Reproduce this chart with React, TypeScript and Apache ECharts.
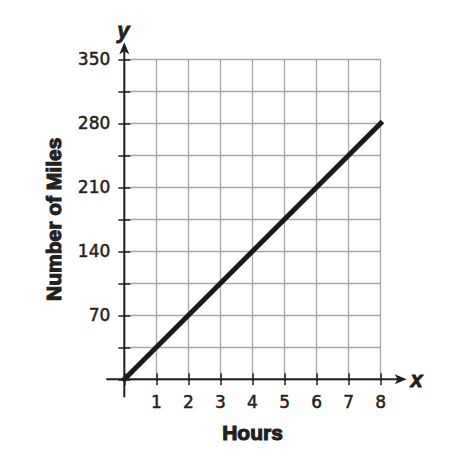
import React, { useEffect, useRef } from "react";
import * as echarts from "echarts";

const hours = [0, 1, 2, 3, 4, 5, 6, 7, 8];
const miles = [0, 35, 70, 105, 140, 175, 210, 245, 280];
const xTicks = [0, 1, 2, 3, 4, 5, 6, 7, 8];
const yTicks = [0, 35, 70, 105, 140, 175, 210, 245, 280, 315, 350];
const yLabelValues = [70, 140, 210, 280, 350];

const AXIS = "#231f20";
const GRID = "#a8a8a8";

export default function App() {
  const ref = useRef<HTMLDivElement>(null);
  useEffect(() => {
    if (!ref.current) return;
    const chart = echarts.init(ref.current, null, { renderer: "svg" });
    const xMin = xTicks[0];
    const xMax = xTicks[xTicks.length - 1];
    const yMin = yTicks[0];
    const yMax = yTicks[yTicks.length - 1];
    const tickLabel = {
      fontFamily: "DejaVu Sans",
      fontSize: 17,
      color: AXIS,
      margin: 14,
      textBorderColor: AXIS,
      textBorderWidth: 0.5,
    };
    const nameStyle = {
      fontFamily: "Liberation Sans",
      fontWeight: "bold",
      fontSize: 21,
      color: AXIS,
      textBorderColor: AXIS,
      textBorderWidth: 1.1,
    };
    const option: any = {
      animation: false,
      grid: { left: 124.3, right: 73.3, top: 59.3, bottom: 84.7 },
      xAxis: [
        {
          type: "value",
          min: xMin,
          max: xMax,
          interval: 1,
          name: "Hours",
          nameLocation: "middle",
          nameGap: 43,
          nameTextStyle: nameStyle,
          axisLine: { show: false },
          axisTick: { show: true, length: 6, lineStyle: { color: AXIS, width: 1.5 } },
          axisLabel: {
            ...tickLabel,
            formatter: (v: number) => (v === 0 ? "" : String(v)),
          },
          splitLine: { show: true, lineStyle: { color: GRID, width: 1.3 } },
        },
        {
          type: "value",
          position: "bottom",
          min: xMin,
          max: xMax,
          interval: 1,
          axisLine: { show: false },
          axisTick: { show: true, inside: true, length: 6, lineStyle: { color: AXIS, width: 1.5 } },
          axisLabel: { show: false },
          splitLine: { show: false },
        },
      ],
      yAxis: [
        {
          type: "value",
          min: yMin,
          max: yMax,
          interval: 35,
          name: "Number of Miles",
          nameLocation: "middle",
          nameGap: 60,
          nameRotate: 90,
          nameTextStyle: nameStyle,
          axisLine: { show: false },
          axisTick: { show: true, length: 6, lineStyle: { color: AXIS, width: 1.5 } },
          axisLabel: {
            ...tickLabel,
            formatter: (v: number) => (yLabelValues.indexOf(v) >= 0 ? String(v) : ""),
          },
          splitLine: { show: true, lineStyle: { color: GRID, width: 1.3 } },
        },
        {
          type: "value",
          position: "left",
          min: yMin,
          max: yMax,
          interval: 35,
          axisLine: { show: false },
          axisTick: { show: true, inside: true, length: 6, lineStyle: { color: AXIS, width: 1.5 } },
          axisLabel: { show: false },
          splitLine: { show: false },
        },
      ],
      series: [
        {
          type: "line",
          data: hours.map((h, i) => [h, miles[i]]),
          showSymbol: false,
          symbol: "none",
          lineStyle: { color: "#1a1a1a", width: 5, cap: "square" },
          z: 5,
        },
      ],
    };
    chart.setOption(option);

    const o = chart.convertToPixel({ gridIndex: 0 }, [xMin, yMin]) as number[];
    const e = chart.convertToPixel({ gridIndex: 0 }, [xMax, yMax]) as number[];
    const xTip = e[0] + 26;
    const yTip = e[1] - 17;
    const aw = 12;
    const ah = 5;
    const letter = {
      fontFamily: "Liberation Sans",
      fontStyle: "italic",
      fontWeight: "bold",
      fontSize: 22,
      fill: AXIS,
      stroke: AXIS,
      lineWidth: 0.8,
      align: "center",
      verticalAlign: "middle",
    };
    chart.setOption({
      graphic: [
        {
          type: "line",
          shape: { x1: o[0] - 18, y1: o[1], x2: xTip - 6, y2: o[1] },
          style: { stroke: AXIS, lineWidth: 2 },
          z: 10,
        },
        {
          type: "polygon",
          shape: {
            points: [
              [xTip, o[1]],
              [xTip - aw, o[1] - ah],
              [xTip - aw + 3, o[1]],
              [xTip - aw, o[1] + ah],
            ],
          },
          style: { fill: AXIS },
          z: 10,
        },
        {
          type: "line",
          shape: { x1: o[0], y1: o[1] + 18, x2: o[0], y2: yTip + 6 },
          style: { stroke: AXIS, lineWidth: 2 },
          z: 10,
        },
        {
          type: "polygon",
          shape: {
            points: [
              [o[0], yTip],
              [o[0] - ah, yTip + aw],
              [o[0], yTip + aw - 3],
              [o[0] + ah, yTip + aw],
            ],
          },
          style: { fill: AXIS },
          z: 10,
        },
        {
          type: "text",
          x: xTip + 10,
          y: o[1],
          style: { ...letter, text: "x" },
        },
        {
          type: "text",
          x: o[0] - 1,
          y: yTip - 12,
          style: { ...letter, text: "y" },
        },
      ],
    });

    return () => chart.dispose();
  }, []);
  return (
    <div
      ref={ref}
      style={{ position: "absolute", left: 0, top: 0, width: 454, height: 464, background: "#fff" }}
    />
  );
}
